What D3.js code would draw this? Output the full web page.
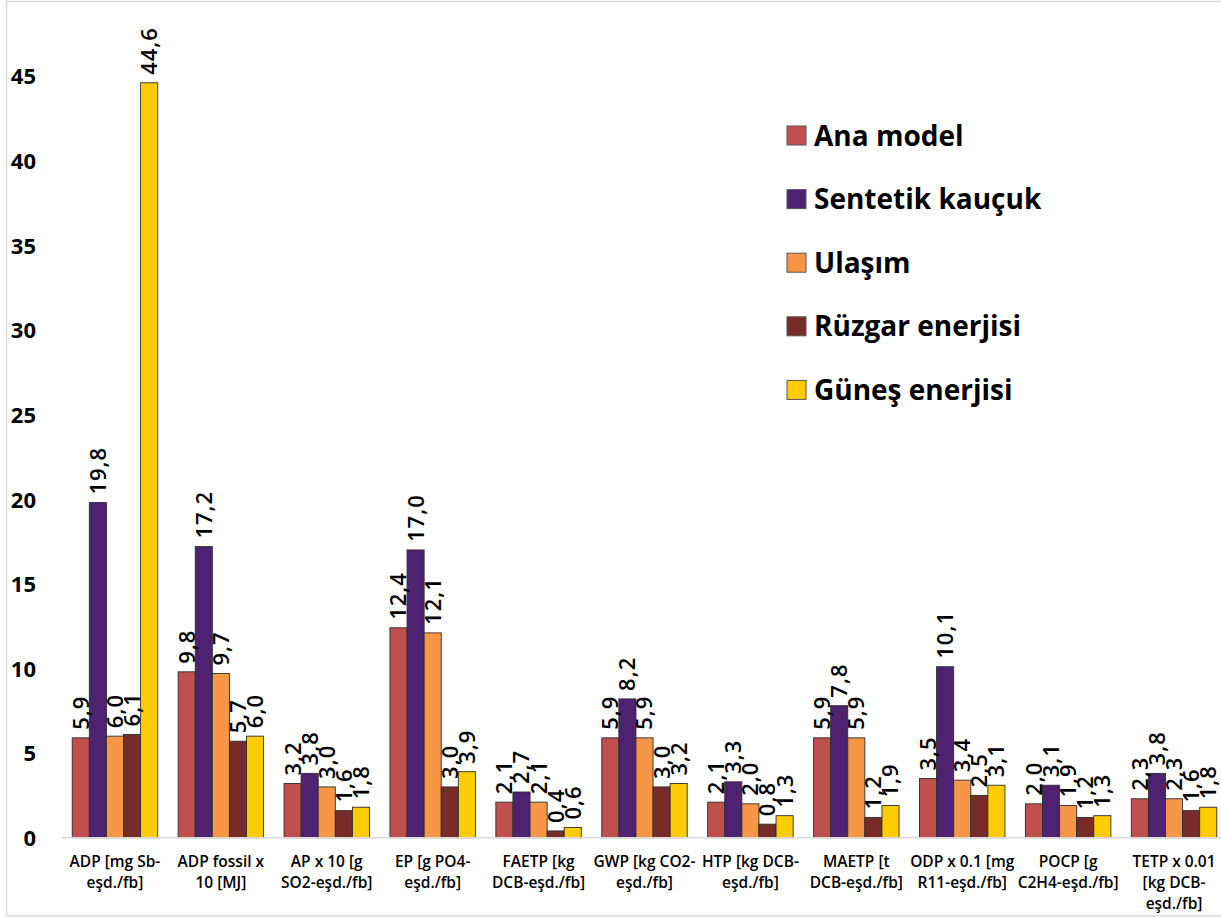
<!DOCTYPE html>
<html>
<head>
<meta charset="utf-8">
<script src="https://cdn.jsdelivr.net/npm/d3@7"></script>
<style>
  html, body { margin: 0; padding: 0; background: #ffffff; }
  svg { display: block; }
</style>
</head>
<body>
<svg id="chart" width="1221" height="917"></svg>
<script>
// Impact categories (each label split into display lines)
const categories = [
  "ADP [mg Sb-|eşd./fb]",
  "ADP fossil x|10 [MJ]",
  "AP x 10 [g|SO2-eşd./fb]",
  "EP [g PO4-|eşd./fb]",
  "FAETP [kg|DCB-eşd./fb]",
  "GWP [kg CO2-|eşd./fb]",
  "HTP [kg DCB-|eşd./fb]",
  "MAETP [t|DCB-eşd./fb]",
  "ODP x 0.1 [mg|R11-eşd./fb]",
  "POCP [g|C2H4-eşd./fb]",
  "TETP x 0.01|[kg DCB-|eşd./fb]"
];

const seriesNames = ["Ana model", "Sentetik kauçuk", "Ulaşım", "Rüzgar enerjisi", "Güneş enerjisi"];

const anaModel       = [5.9,  9.8, 3.2, 12.4, 2.1, 5.9, 2.1, 5.9,  3.5, 2.0, 2.3];
const sentetikKaucuk = [19.8, 17.2, 3.8, 17.0, 2.7, 8.2, 3.3, 7.8, 10.1, 3.1, 3.8];
const ulasim         = [6.0,  9.7, 3.0, 12.1, 2.1, 5.9, 2.0, 5.9,  3.4, 1.9, 2.3];
const ruzgarEnerjisi = [6.1,  5.7, 1.6,  3.0, 0.4, 3.0, 0.8, 1.2,  2.5, 1.2, 1.6];
const gunesEnerjisi  = [44.6, 6.0, 1.8,  3.9, 0.6, 3.2, 1.3, 1.9,  3.1, 1.3, 1.8];

const yTicks = [0, 5, 10, 15, 20, 25, 30, 35, 40, 45];

const colors = ["#C0504D", "#4E2270", "#F79646", "#772C2A", "#FFCC00"];

const seriesValues = [anaModel, sentetikKaucuk, ulasim, ruzgarEnerjisi, gunesEnerjisi];

const svg = d3.select("#chart");
const FONT = "'Open Sans', 'DejaVu Sans', sans-serif";

// Outer chart frame
svg.append("rect")
  .attr("x", 6.5).attr("y", 1.5)
  .attr("width", 1240).attr("height", 914.5)
  .attr("fill", "none")
  .attr("stroke", "#d9d9d9")
  .attr("stroke-width", 1.5);

// Scales
const y = d3.scaleLinear().domain([0, 50]).range([837.7, -8.6]);
const x0 = d3.scaleBand()
  .domain(d3.range(categories.length))
  .range([62, 1227])
  .paddingInner(0.193)
  .paddingOuter(0.0965);
const x1 = d3.scaleBand()
  .domain(d3.range(seriesNames.length))
  .range([0, x0.bandwidth()]);

// Y axis labels (no axis line, no gridlines)
const yAxis = d3.axisLeft(y).tickValues(yTicks).tickSize(0).tickPadding(0)
  .tickFormat(d3.format("d"));
const yAxisG = svg.append("g").attr("transform", "translate(36,0)").call(yAxis);
yAxisG.select(".domain").remove();
yAxisG.selectAll("text")
  .attr("dy", "0.36em")
  .style("font-family", FONT)
  .style("font-size", "22px")
  .style("font-weight", "700")
  .attr("fill", "#000");

// Bars
const rows = [];
seriesValues.forEach((vals, s) => {
  vals.forEach((v, c) => rows.push({ s, c, v }));
});

const barsG = svg.append("g");
barsG.selectAll("rect")
  .data(rows)
  .join("rect")
  .attr("x", d => x0(d.c) + x1(d.s))
  .attr("y", d => y(d.v))
  .attr("width", x1.bandwidth())
  .attr("height", d => y(0) - y(d.v))
  .attr("fill", d => colors[d.s])
  .attr("stroke", "#2e2e2e")
  .attr("stroke-width", 0.9);

// Baseline
svg.append("line")
  .attr("x1", 62).attr("x2", 1227)
  .attr("y1", y(0)).attr("y2", y(0))
  .attr("stroke", "#d9d9d9")
  .attr("stroke-width", 1.5);

// Value labels, rotated, above each bar
const fmt = v => d3.format(".1f")(v).replace(".", ",");
barsG.selectAll("text.val")
  .data(rows)
  .join("text")
  .attr("class", "val")
  .attr("transform", d => `translate(${x0(d.c) + x1(d.s) + x1.bandwidth() / 2},${y(d.v) - 8}) rotate(-90)`)
  .attr("dy", "0.36em")
  .attr("text-anchor", "start")
  .style("font-family", FONT)
  .style("font-size", "22px")
  .style("font-weight", "600")
  .style("letter-spacing", "1px")
  .attr("fill", "#000")
  .text(d => fmt(d.v));

// Category labels
const catG = svg.append("g");
categories.forEach((label, i) => {
  const t = catG.append("text")
    .attr("x", x0(i) + x0.bandwidth() / 2)
    .attr("y", 866.7)
    .attr("text-anchor", "middle")
    .style("font-family", FONT)
    .style("font-size", "15.5px")
    .style("font-weight", "600")
    .attr("fill", "#000");
  label.split("|").forEach((line, k) => {
    t.append("tspan")
      .attr("x", x0(i) + x0.bandwidth() / 2)
      .attr("dy", k === 0 ? 0 : 21)
      .text(line);
  });
});

// Legend
const legend = svg.append("g");
seriesNames.forEach((name, i) => {
  const cy = 135.5 + i * 63.6;
  legend.append("rect")
    .attr("x", 787).attr("y", cy - 9.5)
    .attr("width", 19).attr("height", 19)
    .attr("fill", colors[i])
    .attr("stroke", "#555")
    .attr("stroke-width", 1);
  legend.append("text")
    .attr("x", 814).attr("y", cy + 10)
    .style("font-family", FONT)
    .style("font-size", "28px")
    .style("font-weight", "700")
    .attr("fill", "#000")
    .text(name);
});
</script>
</body>
</html>
